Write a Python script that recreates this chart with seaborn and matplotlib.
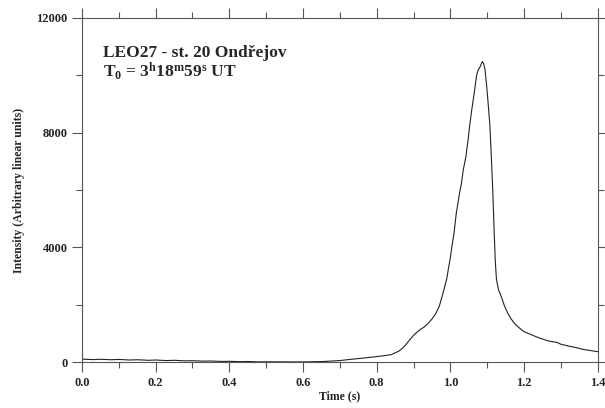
import matplotlib
matplotlib.use("Agg")
import matplotlib.pyplot as plt
import seaborn as sns
import pandas as pd
from matplotlib.ticker import MultipleLocator

time_s = [0.00, 0.03, 0.05, 0.08, 0.10, 0.13, 0.15, 0.18, 0.20, 0.23, 0.25, 0.28,
          0.30, 0.33, 0.35, 0.38, 0.40, 0.43, 0.45, 0.48, 0.50, 0.55,
          0.60, 0.65, 0.70, 0.72, 0.75, 0.78, 0.80, 0.82, 0.84, 0.86, 0.87, 0.88,
          0.89, 0.90, 0.91, 0.92, 0.93, 0.94, 0.95, 0.96, 0.97, 0.98, 0.99, 1.00,
          1.005, 1.01, 1.016, 1.02, 1.025, 1.03, 1.035, 1.042, 1.048, 1.052, 1.057,
          1.062, 1.066, 1.069, 1.072, 1.076, 1.08, 1.084, 1.087, 1.09, 1.094, 1.098,
          1.102, 1.107, 1.111, 1.115, 1.119, 1.122, 1.125, 1.13, 1.139, 1.147, 1.156,
          1.165, 1.175, 1.188, 1.20, 1.22, 1.243, 1.265, 1.28, 1.288, 1.30, 1.32,
          1.342, 1.36, 1.38, 1.40]
intensity = [100, 85, 95, 80, 90, 70, 80, 60, 70, 50, 60, 40,
             45, 30, 35, 20, 25, 12, 18, 5, 8, 5,
             3, 15, 50, 80, 120, 160, 190, 220, 260, 380, 480, 620,
             780, 930, 1050, 1150, 1230, 1350, 1500, 1680, 1950, 2400, 2900, 3650,
             4100, 4500, 5190, 5500, 5900, 6230, 6700, 7160, 7740, 8200, 8700,
             9150, 9500, 9800, 10050, 10200, 10280, 10400, 10480, 10420, 10200, 9700,
             9100, 8300, 7200, 6000, 4500, 3500, 2900, 2550, 2250, 1950, 1700,
             1500, 1330, 1180, 1060, 950, 830, 740, 700, 690, 620, 560,
             500, 440, 400, 360]

title_line1 = "LEO27 - st. 20 Ond\u0159ejov"
title_line2 = r"$\mathbf{T_0}$ = $\mathbf{3^h18^m59^s}$ UT"
x_label = "Time (s)"
y_label = "Intensity (Arbitrary linear units)"

sns.set_style("ticks")
plt.rcParams['font.family'] = ['Liberation Serif', 'DejaVu Serif']
plt.rcParams['font.weight'] = 'bold'
plt.rcParams['mathtext.fontset'] = 'custom'
plt.rcParams['mathtext.rm'] = 'Liberation Serif'
plt.rcParams['mathtext.bf'] = 'Liberation Serif:bold'
plt.rcParams['mathtext.it'] = 'Liberation Serif:italic'

df = pd.DataFrame({"t": time_s, "I": intensity})

fig = plt.figure(figsize=(6.05, 4.08), dpi=100)
ax = fig.add_axes([0.1355, 0.1127, 0.988 - 0.1355, 0.9559 - 0.1127])
sns.lineplot(data=df, x="t", y="I", ax=ax, color="#222222", linewidth=0.8)

ax.set_xlim(0, 1.4)
ax.set_ylim(0, 12000)
ax.xaxis.set_major_locator(MultipleLocator(0.2))
ax.xaxis.set_minor_locator(MultipleLocator(0.1))
ax.yaxis.set_major_locator(MultipleLocator(4000))
ax.yaxis.set_minor_locator(MultipleLocator(2000))
ax.tick_params(which="both", direction="out", top=True, right=True,
               color="#555555", width=0.8)
ax.tick_params(which="major", length=7, labelsize=9)
ax.tick_params(which="minor", length=4)
ax.set_xticklabels([f"{v:.1f}" for v in ax.get_xticks()], fontweight="bold")
ax.set_yticklabels([f"{int(v)}" for v in ax.get_yticks()], fontweight="bold")
for s in ax.spines.values():
    s.set_color("#555555")
    s.set_linewidth(0.8)

ax.set_xlabel(x_label, fontsize=8.5, fontweight="bold", labelpad=1)
ax.set_ylabel(y_label, fontsize=8.5, fontweight="bold", labelpad=8)

ax.text(0.04, 0.888, title_line1, transform=ax.transAxes, fontsize=12.5,
        fontweight="bold", ha="left", va="baseline")
ax.text(0.04, 0.828, title_line2, transform=ax.transAxes, fontsize=12.5,
        fontweight="bold", ha="left", va="baseline")

fig.savefig("out.png", dpi=100)
